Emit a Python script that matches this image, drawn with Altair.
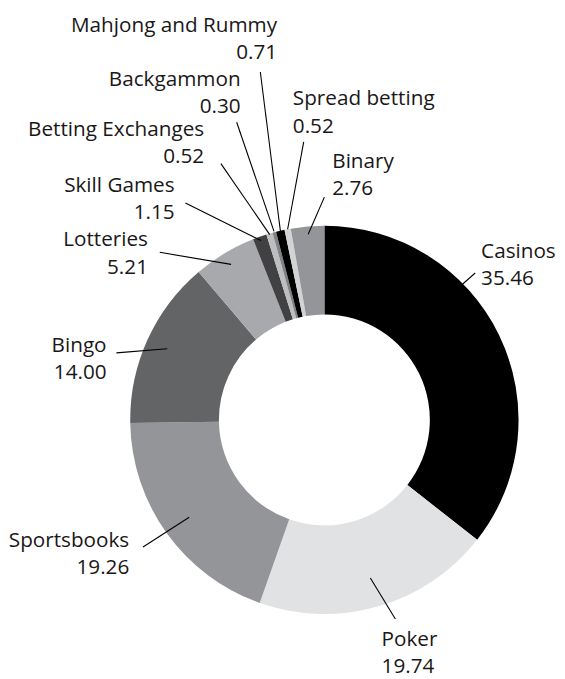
import math
import altair as alt
import pandas as pd

# ---- data ----
categories = ["Casinos", "Poker", "Sportsbooks", "Bingo", "Lotteries", "Skill Games",
              "Betting Exchanges", "Backgammon", "Mahjong and Rummy", "Spread betting", "Binary"]
values = [35.46, 19.74, 19.26, 14.00, 5.21, 1.15, 0.52, 0.30, 0.71, 0.52, 2.76]
value_labels = ["35.46", "19.74", "19.26", "14.00", "5.21", "1.15", "0.52", "0.30", "0.71", "0.52", "2.76"]

# ---- styles ----
colors = ["#000000", "#e1e2e3", "#939598", "#636466", "#a7a9ac", "#414042",
          "#bcbec0", "#808285", "#000000", "#d1d3d4", "#939598"]
TEXT_COLOR = "#1a1718"
FONT = "Open Sans"
FONT_SIZE = 21
LINE_H = 27.5

# ---- layout (page pixels) ----
M = 8
W, H = 557, 671
CX, CY = 329 - M, 421 - M          # donut centre in chart coords
R_OUT, R_IN = 197, 107

# leader line: radius of inner end (angle from slice middle, override where given)
leader_r = [196, 167, 169, 175, 184, 193, 196, 198, 196, 197, 189]
leader_angle_override = {0: 45.5}
# leader outer end, offset from centre
leader_out = [(153, -149), (72, 202), (-184, 129), (-211, -68), (-167, -170), (-141, -220),
              (-105, -260), (-89, -302), (-65, -353), (-21, -282), (0, -226)]
# label anchor offset from centre (first baseline), and alignment
label_pos = [(159, -164), (58, 229), (-198, 129), (-221, -69), (-179, -176), (-152, -231),
             (-122, -288), (-85, -339), (-48, -394), (-32, -319), (8, -256)]
label_align = ["left", "left", "right", "right", "right", "right",
               "right", "right", "right", "left", "left"]

total = sum(values)
cum = 0.0
rows_rule, rows_text = [], []
for i, (c, v) in enumerate(zip(categories, values)):
    mid = (cum + v / 2) / total * 360.0
    cum += v
    ang = math.radians(leader_angle_override.get(i, mid))
    x1 = CX + leader_r[i] * math.sin(ang)
    y1 = CY - leader_r[i] * math.cos(ang)
    x2 = CX + leader_out[i][0]
    y2 = CY + leader_out[i][1]
    rows_rule.append({"category": c, "x": x1, "y": y1, "x2": x2, "y2": y2})
    rows_text.append({"category": c, "label": c + "\n" + value_labels[i],
                      "x": CX + label_pos[i][0], "y": CY + label_pos[i][1],
                      "align": label_align[i]})

df = pd.DataFrame({"category": categories, "value": values, "order": list(range(len(values)))})
df_rule = pd.DataFrame(rows_rule)
df_text = pd.DataFrame(rows_text)

xs = alt.Scale(domain=[0, W], range=[0, W], nice=False, zero=False)
ys = alt.Scale(domain=[0, H], range=[0, H], nice=False, zero=False)

arcs = alt.Chart(df).mark_arc(innerRadius=R_IN, outerRadius=R_OUT, x=CX, y=CY).encode(
    theta=alt.Theta("value:Q", stack=True),
    order=alt.Order("order:Q"),
    color=alt.Color("category:N", scale=alt.Scale(domain=categories, range=colors), legend=None),
)

rules = alt.Chart(df_rule).mark_rule(color="#000000", strokeWidth=1.1).encode(
    x=alt.X("x:Q", scale=xs, axis=None),
    y=alt.Y("y:Q", scale=ys, axis=None),
    x2="x2:Q",
    y2="y2:Q",
)

def text_layer(align):
    return alt.Chart(df_text[df_text["align"] == align]).mark_text(
        align=align, baseline="alphabetic", lineBreak="\n", lineHeight=LINE_H,
        font=FONT, fontSize=FONT_SIZE, color=TEXT_COLOR,
    ).encode(
        x=alt.X("x:Q", scale=xs, axis=None),
        y=alt.Y("y:Q", scale=ys, axis=None),
        text="label:N",
    )

chart = alt.layer(arcs, rules, text_layer("left"), text_layer("right")).properties(
    width=W, height=H, padding=0, autosize=alt.AutoSizeParams(type="none"),
).configure_view(stroke=None)

chart.save("out.html", embed_options={"renderer": "svg", "actions": False})
